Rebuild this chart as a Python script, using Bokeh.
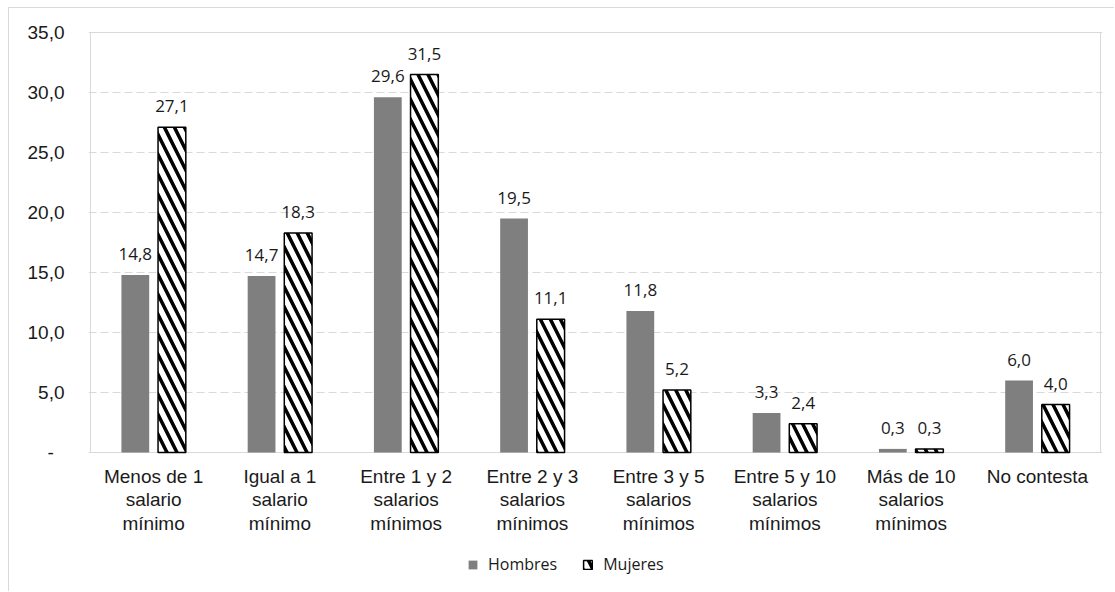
from bokeh.plotting import figure
from bokeh.models import (FactorRange, Range1d, FixedTicker, Legend, LegendItem,
                          ColumnDataSource)
from bokeh.transform import dodge
from bokeh.embed import file_html
from bokeh.resources import INLINE
from bokeh.core.properties import value

# Salary brackets (categories, written as they appear under the bars)
categorias = ["Menos de 1\nsalario\nmínimo", "Igual a 1\nsalario\nmínimo",
              "Entre 1 y 2\nsalarios\nmínimos", "Entre 2 y 3\nsalarios\nmínimos",
              "Entre 3 y 5\nsalarios\nmínimos", "Entre 5 y 10\nsalarios\nmínimos",
              "Más de 10\nsalarios\nmínimos", "No contesta"]

# Percentages by sex
hombres = [14.8, 14.7, 29.6, 19.5, 11.8, 3.3, 0.3, 6.0]
mujeres = [27.1, 18.3, 31.5, 11.1, 5.2, 2.4, 0.3, 4.0]

# Y axis ticks and labels (the zero label keeps a figure space after the dash)
y_ticks = [0, 5, 10, 15, 20, 25, 30, 35]
y_tick_labels = ["-\u2007", "5,0", "10,0", "15,0", "20,0", "25,0", "30,0", "35,0"]


def fmt(v):
    return f"{v:.1f}".replace(".", ",")


src = ColumnDataSource(dict(
    cat=categorias,
    h=hombres,
    m=mujeres,
    h_lbl=[fmt(v) for v in hombres],
    m_lbl=[fmt(v) for v in mujeres],
    base=[y_ticks[0]] * len(categorias),
))

N = len(categorias)
PX_PER_UNIT = 12.0           # vertical scale of the value axis
y_top = y_ticks[-1] + 1 / PX_PER_UNIT
y_bottom = y_top - 561 / PX_PER_UNIT   # frame extends down to hold labels and legend

p = figure(x_range=FactorRange(*categorias, range_padding=0.0158,
                               range_padding_units="absolute"),
           y_range=Range1d(y_bottom, y_top),
           width=1106, height=584, output_backend="svg", toolbar_location=None,
           min_border_left=79, min_border_top=23, min_border_right=13,
           min_border_bottom=0)
p.margin = (7, 0, 0, 8)
p.styles = {"border-top": "1px solid #d9d9d9", "border-left": "1px solid #d9d9d9"}
p.background_fill_color = "white"
p.border_fill_color = "white"
p.outline_line_color = None

# Grid
p.xgrid.grid_line_color = None
p.ygrid.grid_line_color = "#d9d9d9"
p.ygrid.grid_line_dash = "8 4"
p.ygrid.grid_line_width = 1

# Plot-area box
p.quad(left=0, right=N, bottom=y_ticks[0], top=y_ticks[-1], fill_color=None,
       line_color="#d9d9d9", line_width=1)

BAR_W = 0.22
OFF = 0.145

r_h = p.vbar(x=dodge("cat", -OFF, range=p.x_range), top="h", width=BAR_W,
             source=src, fill_color="#7f7f7f", line_color=None)
r_m = p.vbar(x=dodge("cat", OFF, range=p.x_range), top="m", width=BAR_W,
             source=src, fill_color="white", line_color="black", line_width=1.5,
             hatch_pattern="\\", hatch_color="black", hatch_weight=3.5,
             hatch_scale=20)

# Value labels above each bar
for col, lbl, off in (("h", "h_lbl", -OFF), ("m", "m_lbl", OFF)):
    p.text(x=dodge("cat", off, range=p.x_range), y=col, text=lbl, source=src,
           text_align="center", text_baseline="alphabetic", y_offset=-21,
           text_font=value("Open Sans"), text_font_size="17px",
           text_color="#1a1a1a")

# Category labels under the bars
p.text(x="cat", y="base", text="cat", source=src, text_align="center",
       text_baseline="top", y_offset=13, text_line_height=1.13,
       text_font=value("Liberation Sans"), text_font_size="19px",
       text_color="#1a1a1a")

# Y axis
p.yaxis.ticker = FixedTicker(ticks=y_ticks)
p.yaxis.major_label_overrides = {t: l for t, l in zip(y_ticks, y_tick_labels)}
p.yaxis.axis_line_color = None
p.yaxis.major_tick_line_color = None
p.yaxis.minor_tick_line_color = None
p.yaxis.major_label_standoff = 18
p.yaxis.major_label_text_font = "Liberation Sans"
p.yaxis.major_label_text_font_size = "19px"
p.yaxis.major_label_text_color = "#1a1a1a"

p.xaxis.visible = False

legend = Legend(items=[LegendItem(label="Hombres", renderers=[r_h]),
                       LegendItem(label="Mujeres", renderers=[r_m])],
                orientation="horizontal", location=(379, 17),
                padding=0, margin=0, spacing=25, label_standoff=10,
                glyph_width=11, glyph_height=11,
                border_line_color=None, background_fill_alpha=0,
                label_text_font="Open Sans", label_text_font_size="16px",
                label_text_color="#1a1a1a")
p.add_layout(legend, "center")

open("out.html", "w").write(file_html(p, INLINE))
